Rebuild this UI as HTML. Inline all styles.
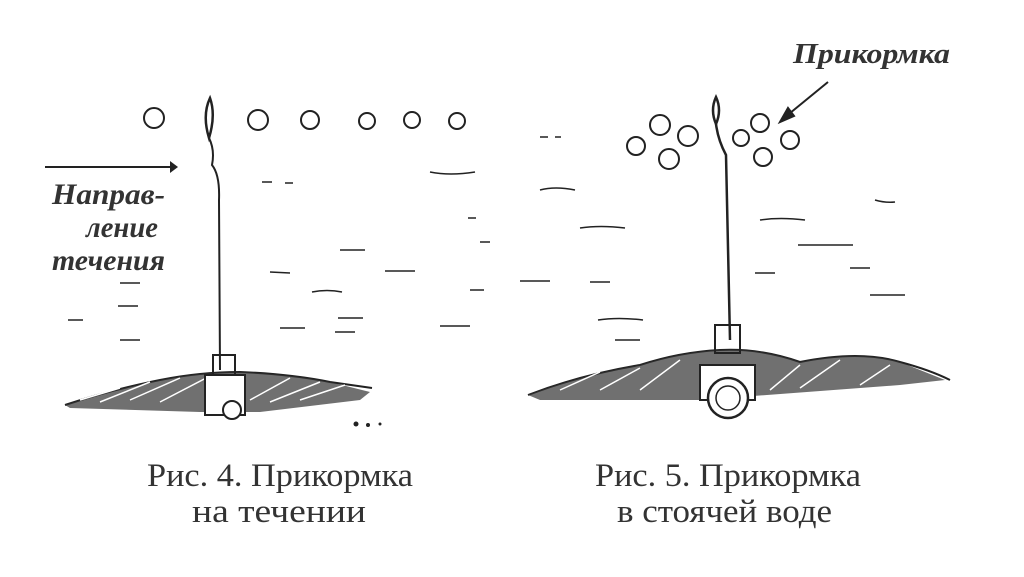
<!DOCTYPE html>
<html><head><meta charset="utf-8"><style>
html,body{margin:0;padding:0;background:#fff;width:1024px;height:577px;overflow:hidden}
svg{display:block}
.cap{font-family:"Liberation Serif",serif;font-size:33px;fill:#333}
.it{font-family:"Liberation Serif",serif;font-style:italic;font-weight:bold;fill:#333}
</style></head><body>
<svg width="1024" height="577" viewBox="0 0 1024 577" xmlns="http://www.w3.org/2000/svg">
<g fill="none" stroke="#222" stroke-width="2">
<circle cx="154" cy="118" r="10"/><circle cx="258" cy="120" r="10"/><circle cx="310" cy="120" r="9"/>
<circle cx="367" cy="121" r="8"/><circle cx="412" cy="120" r="8"/><circle cx="457" cy="121" r="8"/>
<path d="M210 98 Q202 115 209 138 Q216 115 210 98Z" stroke-width="2.5"/>
<path d="M209 138 Q215 150 212 165 Q220 175 219 200 L220 370" stroke-width="2"/>
<path d="M45 167 L170 167" stroke-width="2"/>
<path d="M65 405 Q110 390 160 380 Q200 372 240 372 Q290 374 330 382 L372 388" stroke-width="2"/>
<path d="M65 405 Q110 390 160 380 Q200 372 240 372 Q290 374 330 382 L370 392 L360 400 L260 412 L200 412 L70 408Z" fill="#333" stroke="none" opacity="0.7"/>
<path d="M80 400 L120 388 M100 402 L150 382 M130 400 L180 378 M160 402 L210 376 M250 400 L290 378 M270 402 L320 382 M300 400 L345 385" stroke-width="1.5" stroke="#fff"/>
<rect x="213" y="355" width="22" height="20" stroke-width="2"/>
<rect x="205" y="375" width="40" height="40" fill="#fff" stroke-width="2"/>
<circle cx="232" cy="410" r="9" fill="#fff"/>
<path d="M262 182 l10 0 M285 183 l8 0 M430 172 q20 4 45 0 M468 218 l8 0 M340 250 l25 0 M270 272 l20 1 M385 271 l30 0 M312 292 q15 -3 30 0 M470 290 l14 0 M120 283 l20 0 M68 320 l15 0 M118 306 l20 0 M338 318 l25 0 M440 326 l30 0 M280 328 l25 0 M335 332 l20 0 M120 340 l20 0 M480 242 l10 0" stroke-width="1.5"/>
<circle cx="660" cy="125" r="10"/><circle cx="636" cy="146" r="9"/><circle cx="688" cy="136" r="10"/>
<circle cx="669" cy="159" r="10"/><circle cx="760" cy="123" r="9"/><circle cx="741" cy="138" r="8"/>
<circle cx="790" cy="140" r="9"/><circle cx="763" cy="157" r="9"/>
<path d="M716 97 Q710 110 716 124 Q722 110 716 97Z" stroke-width="2.5"/>
<path d="M716 124 Q718 140 726 155 L730 340" stroke-width="2.5"/>
<path d="M828 82 L784 118" stroke-width="2"/>
<path d="M780 122 L788 108 L794 116Z" fill="#222"/>
<path d="M528 395 Q580 375 640 365 Q680 352 720 350 Q760 348 800 362 Q860 350 900 362 Q930 370 950 380" stroke-width="2"/>
<path d="M528 395 Q580 375 640 365 Q680 352 720 350 Q760 348 800 362 Q860 350 900 362 L945 380 L900 385 L700 400 L540 400Z" fill="#333" stroke="none" opacity="0.7"/>
<path d="M560 390 L600 372 M600 390 L640 368 M640 390 L680 360 M770 390 L800 365 M800 388 L840 360 M860 385 L890 365" stroke-width="1.5" stroke="#fff"/>
<rect x="715" y="325" width="25" height="28" stroke-width="2"/>
<rect x="700" y="365" width="55" height="35" fill="#fff" stroke-width="2"/>
<circle cx="728" cy="398" r="20" fill="#fff" stroke-width="2.5"/>
<circle cx="728" cy="398" r="12" stroke-width="1.5"/>
<path d="M540 137 l8 0 M555 137 l6 0 M540 190 q15 -4 35 0 M580 228 q20 -3 45 0 M520 281 l30 0 M590 282 l20 0 M598 320 q20 -3 45 0 M615 340 l25 0 M760 220 q20 -3 45 0 M798 245 l55 0 M755 273 l20 0 M850 268 l20 0 M870 295 l35 0 M875 200 q10 3 20 2" stroke-width="1.5"/>
</g>
<g fill="#222">
<path d="M170 161 L178 167 L170 173Z"/>
<circle cx="356" cy="424" r="2.5"/><circle cx="368" cy="425" r="2"/><circle cx="380" cy="424" r="1.5"/>
</g>
<text class="it" x="52" y="204" font-size="30" textLength="113" lengthAdjust="spacingAndGlyphs">Направ-</text>
<text class="it" x="86" y="237" font-size="30" textLength="72" lengthAdjust="spacingAndGlyphs">ление</text>
<text class="it" x="52" y="270" font-size="30" textLength="113" lengthAdjust="spacingAndGlyphs">течения</text>
<text class="it" x="793" y="63" font-size="29" textLength="157" lengthAdjust="spacingAndGlyphs">Прикормка</text>
<text class="cap" x="147" y="486" textLength="266" lengthAdjust="spacingAndGlyphs">Рис. 4. Прикормка</text>
<text class="cap" x="192" y="522" textLength="174" lengthAdjust="spacingAndGlyphs">на течении</text>
<text class="cap" x="595" y="486" textLength="266" lengthAdjust="spacingAndGlyphs">Рис. 5. Прикормка</text>
<text class="cap" x="617" y="522" textLength="215" lengthAdjust="spacingAndGlyphs">в стоячей воде</text>
</svg>
</body></html>
